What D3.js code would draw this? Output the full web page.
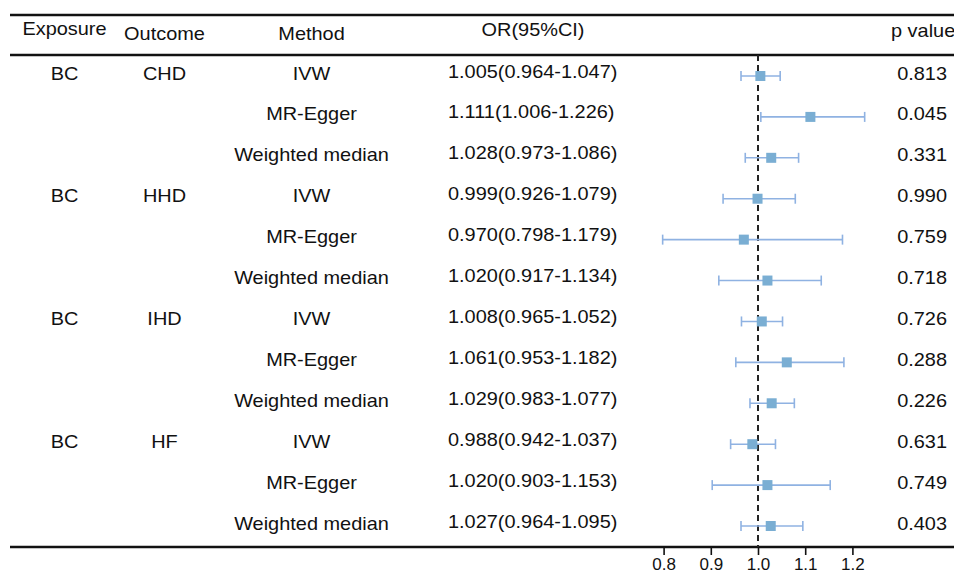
<!DOCTYPE html>
<html>
<head>
<meta charset="utf-8">
<script src="https://cdn.jsdelivr.net/npm/d3@7"></script>
<style>
  html, body { margin: 0; padding: 0; background: #fff; }
  svg { display: block; }
  text { font-family: "Liberation Sans", Arial, sans-serif; fill: #111; }
</style>
</head>
<body>
<svg id="chart" width="954" height="575"></svg>
<script>
const headers = ["Exposure", "Outcome", "Method", "OR(95%CI)", "p value"];
const exposures = ["BC", "", "", "BC", "", "", "BC", "", "", "BC", "", ""];
const outcomes = ["CHD", "", "", "HHD", "", "", "IHD", "", "", "HF", "", ""];
const methods = ["IVW", "MR-Egger", "Weighted median", "IVW", "MR-Egger", "Weighted median",
                 "IVW", "MR-Egger", "Weighted median", "IVW", "MR-Egger", "Weighted median"];
const orValues = [1.005, 1.111, 1.028, 0.999, 0.970, 1.020, 1.008, 1.061, 1.029, 0.988, 1.020, 1.027];
const lowerCI  = [0.964, 1.006, 0.973, 0.926, 0.798, 0.917, 0.965, 0.953, 0.983, 0.942, 0.903, 0.964];
const upperCI  = [1.047, 1.226, 1.086, 1.079, 1.179, 1.134, 1.052, 1.182, 1.077, 1.037, 1.153, 1.095];
const pValues  = ["0.813", "0.045", "0.331", "0.990", "0.759", "0.718", "0.726", "0.288", "0.226", "0.631", "0.749", "0.403"];
const axisTicks = [0.8, 0.9, 1.0, 1.1, 1.2];

const rows = methods.map((m, i) => ({
  i, exposure: exposures[i], outcome: outcomes[i], method: m,
  or: orValues[i], lo: lowerCI[i], hi: upperCI[i], p: pValues[i]
}));

const svg = d3.select("#chart");
const W = 954;
const fs = 18.8, sx = 1.06;

const x = d3.scaleLinear().domain([0.8, 1.2]).range([663.6, 852.4]);
const y = d3.scalePoint().domain(d3.range(rows.length)).range([76, 526]);

const topLine = 15, headLine = 55, axisY = 547;

function txt(g, tx, ty, s, anchor, size) {
  return g.append("text")
    .attr("transform", `translate(${tx},${ty}) scale(${sx},1)`)
    .attr("text-anchor", anchor)
    .style("font-size", (size || fs) + "px")
    .text(s);
}

// horizontal rules
[topLine, headLine, axisY].forEach(yy => {
  svg.append("line").attr("x1", 10).attr("x2", W).attr("y1", yy).attr("y2", yy)
    .attr("stroke", "#111").attr("stroke-width", 2.4);
});

// headers
const hg = svg.append("g");
txt(hg, 64.5, 35, headers[0], "middle");
txt(hg, 164.5, 39.5, headers[1], "middle");
txt(hg, 311.5, 40, headers[2], "middle");
txt(hg, 533, 36, headers[3], "middle");
txt(hg, 891, 37, headers[4], "start");

// reference line at OR = 1
svg.append("line")
  .attr("x1", x(1)).attr("x2", x(1))
  .attr("y1", headLine).attr("y2", axisY)
  .attr("stroke", "#222").attr("stroke-width", 2)
  .attr("stroke-dasharray", "6,4");

// table text
const tg = svg.append("g");
rows.forEach(d => {
  const yy = y(d.i);
  if (d.exposure) txt(tg, 64.5, yy + 3.5, d.exposure, "middle");
  if (d.outcome) txt(tg, 164.5, yy + 3.5, d.outcome, "middle");
  txt(tg, 311.5, yy + 3.5, d.method, "middle");
  txt(tg, 448, yy + 1.5, `${d.or.toFixed(3)}(${d.lo.toFixed(3)}-${d.hi.toFixed(3)})`, "start");
  txt(tg, 947, yy + 3.5, d.p, "end");
});

// CI lines
const ciColor = "#8fb2e2", ptColor = "#7aaed3";
const fg = svg.append("g");
fg.selectAll("line.ci").data(rows).join("line").attr("class", "ci")
  .attr("x1", d => x(d.lo)).attr("x2", d => x(d.hi))
  .attr("y1", d => y(d.i)).attr("y2", d => y(d.i))
  .attr("stroke", ciColor).attr("stroke-width", 1.6);
fg.selectAll("line.capl").data(rows).join("line").attr("class", "capl")
  .attr("x1", d => x(d.lo)).attr("x2", d => x(d.lo))
  .attr("y1", d => y(d.i) - 5).attr("y2", d => y(d.i) + 5)
  .attr("stroke", ciColor).attr("stroke-width", 1.6);
fg.selectAll("line.caph").data(rows).join("line").attr("class", "caph")
  .attr("x1", d => x(d.hi)).attr("x2", d => x(d.hi))
  .attr("y1", d => y(d.i) - 5).attr("y2", d => y(d.i) + 5)
  .attr("stroke", ciColor).attr("stroke-width", 1.6);
fg.selectAll("rect.pt").data(rows).join("rect").attr("class", "pt")
  .attr("x", d => x(d.or) - 5).attr("y", d => y(d.i) - 5)
  .attr("width", 10).attr("height", 10)
  .attr("fill", ptColor);

// axis
const ax = svg.append("g").attr("transform", `translate(0,${axisY})`)
  .call(d3.axisBottom(x).tickValues(axisTicks).tickFormat(d3.format(".1f")).tickSize(8).tickPadding(3));
ax.select(".domain").remove();
ax.selectAll(".tick line").attr("stroke", "#111").attr("stroke-width", 1.6);
ax.selectAll(".tick text")
  .attr("fill", "#111")
  .style("font-family", '"Liberation Sans", Arial, sans-serif')
  .style("font-size", "17px");
</script>
</body>
</html>
